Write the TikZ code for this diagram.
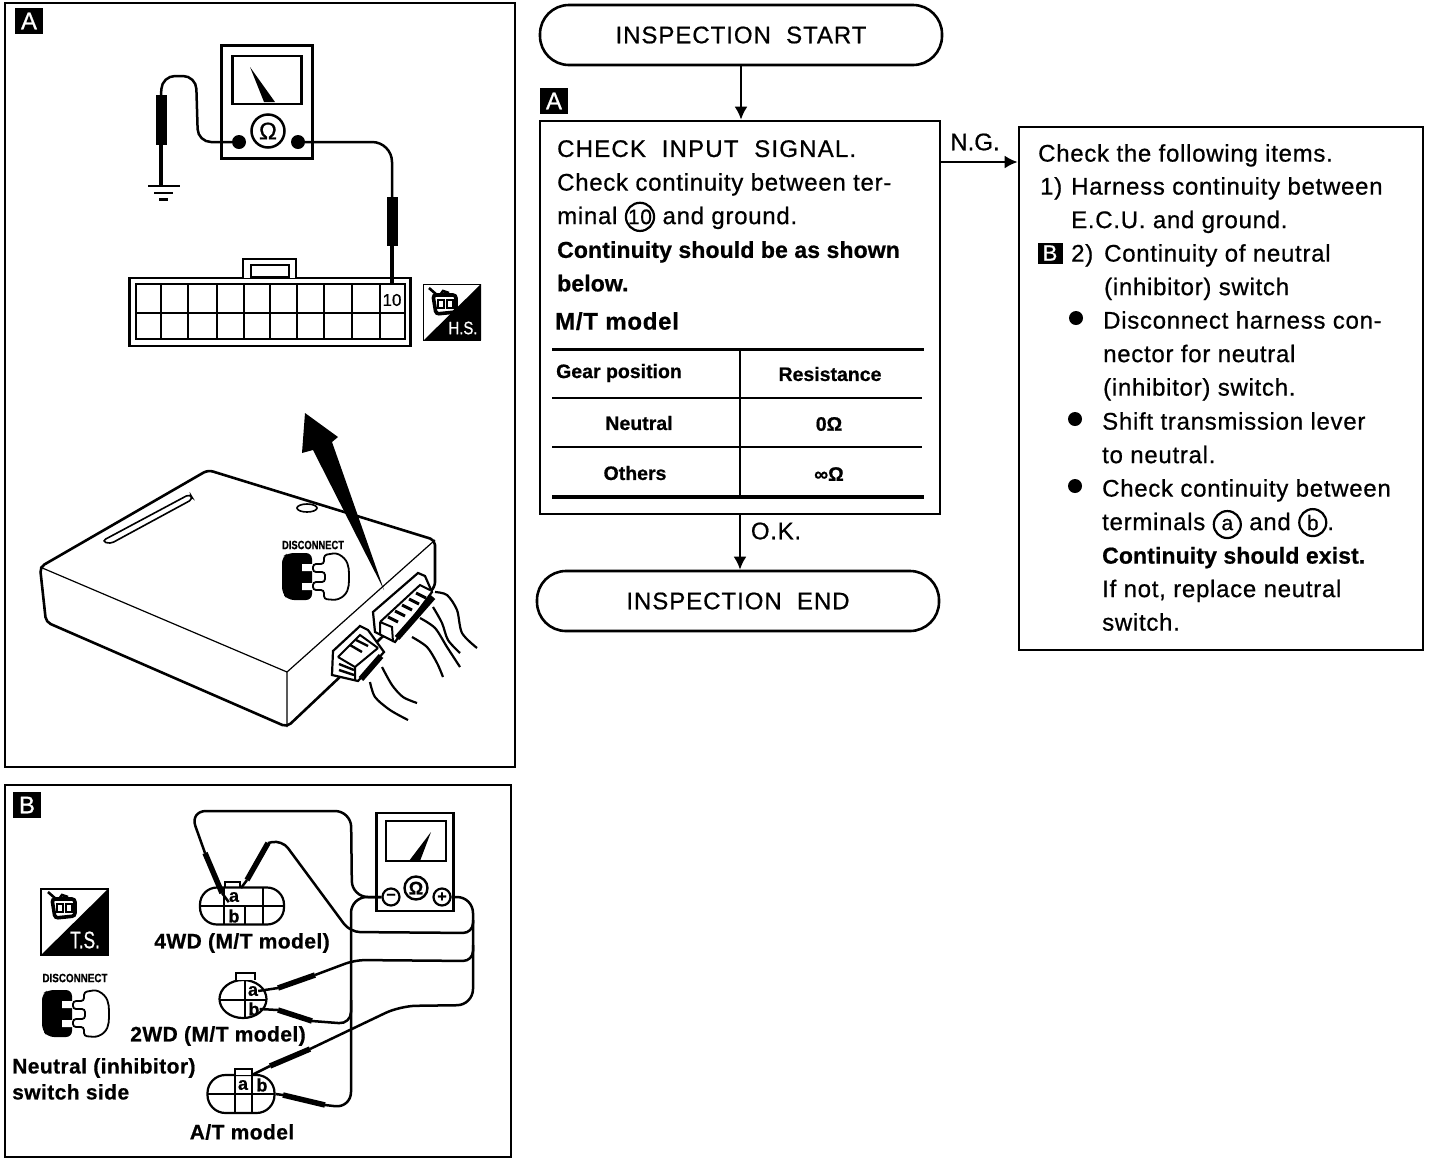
\documentclass[tikz,border=0pt]{standalone}
\usepackage{fontspec}
\setmainfont[FakeBold=0.7]{Liberation Sans}
\usetikzlibrary{positioning,shapes.geometric,arrows.meta}
\newcommand{\ringed}[1]{\tikz[baseline=(ring.base)]\node[draw, circle, anchor=center, align=center, line width=2.2pt, minimum size=27pt, inner sep=0pt, font=\fontsize{21}{21}\selectfont] (ring) {#1};}
\newcommand{\boldline}{\fontsize{23}{33.5}\bfseries\addfontfeature{LetterSpace=0.5}\selectfont}
\tikzset{
  frame/.style={draw, rectangle, line width=2.6pt, fill=white},
  badge/.style={fill=black, text=white, minimum width=28pt, minimum height=26pt, inner sep=0pt, font=\fontsize{24}{24}\selectfont},
  bodytext/.style={anchor=north west, inner sep=0pt, align=left, font=\fontsize{24}{33.5}\selectfont\addfontfeature{LetterSpace=3}},
  tabletext/.style={inner sep=0pt, font=\fontsize{19.5}{20}\bfseries\selectfont},
  labeltext/.style={inner sep=0pt, font=\fontsize{21}{26}\bfseries\selectfont\addfontfeature{LetterSpace=2}},
  pill/.style={draw, rectangle, line width=2.6pt, rounded corners=29pt, minimum width=402pt, minimum height=60pt, font=\fontsize{24}{24}\selectfont\addfontfeature{LetterSpace=4}},
  wire/.style={line width=2.5pt, rounded corners=14pt},
  thinwire/.style={line width=2.2pt},
  probe/.style={line width=11pt},
  probetip/.style={line width=3.5pt},
  smallprobe/.style={line width=5.5pt},
  leadtip/.style={line width=2.5pt},
  pinletter/.style={inner sep=0pt, font=\fontsize{18}{18}\bfseries\selectfont},
  disctext/.style={inner sep=0pt, font=\fontsize{12}{12}\bfseries\selectfont},
  dot/.style={circle, fill=black, minimum size=14pt, inner sep=0pt},
  plugicon/.pic={
    \fill[black, rounded corners=6pt] (0,4) -- (6,0) -- (30,0) -- (30,47) -- (6,47) -- (0,40) -- cycle;
    \fill[white] (20,11) rectangle (32,18) (20,30) rectangle (32,37);
    \draw[line width=1.8pt, fill=white, rounded corners=3pt] (31,11) -- (42,11) -- (42,2) -- (54,0) .. controls (66,6) and (67,14) .. (67,24) .. controls (67,34) and (66,42) .. (54,47) -- (42,46) -- (42,37) -- (31,37) -- (31,29) -- (43,29) -- (43,19) -- (31,19) -- cycle;
  },
  relayicon/.pic={
    \draw[line width=3.6pt, rounded corners=3pt] (2,5) -- (25,5) -- (25,22) -- (5,24) -- cycle;
    \draw[line width=1.6pt] (7,10) rectangle (13,18) (16,10) rectangle (22,18);
    \draw[line width=2.6pt] (-2,-2) -- (6,5) (9,5) -- (12,1) -- (18,3);
  },
}

\begin{document}
\begin{tikzpicture}[x=1pt, y=-1pt, >={Latex[length=13pt,width=13pt]}]
    \useasboundingbox (0,0) rectangle (1440,1160);

    % panel A
    \node[frame, minimum width=510pt, minimum height=764pt] (panelA) at (260,385) {};
    \node[badge] (badgeA) at (29,21) {A};

    \node[frame, minimum width=91pt, minimum height=113pt] (meterA) at (267,102) {};
    \node[draw, rectangle, line width=2.4pt, minimum width=69pt, minimum height=48pt] (windowA) at (267,80) {};
    \fill (250,67) -- (275,102) -- (264,102) -- cycle;
    \node[draw, circle, line width=2.5pt, minimum size=33pt, inner sep=0pt, font=\fontsize{24}{24}\selectfont] (ohmA) at (268,131) {Ω};
    \node[dot] (leadL) at (239,142) {};
    \node[dot] (leadR) at (298,142) {};

    \coordinate (groundA) at (161,186);
    \coordinate (pinA) at (392,285);
    \draw[wire, rounded corners=13pt] (leadL) -- (198,142) -- (196,76) -- (162,76) -- (161,96);
    \draw[probe] (161,95) -- (161,145);
    \draw[probetip] (161,145) -- (groundA);
    \draw[line width=2.4pt] (148,186) -- (180,186) (154,193) -- (173,193);
    \draw[line width=3pt] (159,199) -- (168,199);
    \draw[wire, rounded corners=20pt] (leadR) -- (392,142) -- (392,197);
    \draw[probe] (392,197) -- (392,246);

    % connector
    \node[frame, minimum width=281pt, minimum height=68pt] (ecuplug) at (270,312) {};
    \draw[line width=2.4pt, fill=white] (243,278) -- (243,259) -- (296,259) -- (296,278);
    \draw[line width=2.4pt] (251,265) rectangle (289,277);
    \draw[line width=2.2pt] (136,284) rectangle (405,339) (136,313) -- (405,313);
    \foreach \xpos in {161,188,217,244,270,297,324,352,380}
        \draw[line width=2pt] (\xpos,284) -- (\xpos,339);
    \draw[probetip] (392,246) -- (pinA);
    \node[inner sep=0pt, font=\fontsize{17}{17}\selectfont] (pin10) at (392,300) {10};

    \node[draw, rectangle, line width=1pt, fill=white, minimum width=57pt, minimum height=56pt, inner sep=0pt] (iconHS) at (452,312) {};
    \fill (481,284) -- (481,340) -- (424,340) -- cycle;
    \pic at (431,290) {relayicon};
    \node[inner sep=0pt, text=white, font=\fontsize{18}{18}\selectfont] (textHS) at (463,328) {\scalebox{0.83}[1]{H.S.}};

    % control unit
    \draw[line width=2.6pt, fill=white, rounded corners=5pt] (40,567) -- (46,622) -- (287,727) -- (435,587) -- (435,540) -- (208,470) -- cycle;
    \draw[line width=1.2pt] (40,567) -- (287,672) -- (287,727) (287,672) -- (435,540);
    \draw[line width=1.6pt, rounded corners=4pt] (102,541) -- (190,494) -- (193,499) -- (110,544) -- cycle;
    \draw[line width=1.6pt] (307,508) ellipse (10pt and 4pt);
    \fill (305,413) -- (338,437) -- (332,442) -- (384,590) -- (313,450) -- (302,453) -- cycle;
    \node[disctext] (discA) at (313,545) {\scalebox{0.78}[1]{DISCONNECT}};
    \begin{scope}[shift={(282,553)}, xscale=0.94]
        \pic at (0,0) {plugicon};
    \end{scope}

    % harness plugs
    \draw[line width=2.2pt, fill=white] (373,612) -- (418,573) -- (425,576) -- (432,592) -- (395,642) -- (375,632) -- cycle;
    \draw[line width=2pt] (380,622) -- (420,585) -- (430,590) (380,622) -- (392,627) -- (393,642) (380,622) -- (380,635);
    \foreach \step in {0,1,2,3,4}
        \draw[line width=3pt] (388+7*\step,617-6*\step) -- (398+7*\step,622-6*\step);
    \draw[line width=6pt] (397,638) -- (433,597);
    \draw[line width=2.2pt, fill=white] (333,651) -- (360,626) -- (368,630) -- (384,652) -- (358,681) -- (332,675) -- cycle;
    \draw[line width=2pt] (338,657) -- (360,635) -- (378,648) (338,657) -- (355,667) -- (378,648) (355,667) -- (355,680);
    \draw[line width=2.4pt] (339,664) -- (354,670) (339,670) -- (354,675) (350,645) -- (362,652) (356,640) -- (368,646);
    \draw[line width=6pt] (361,679) -- (381,656);
    \draw[thinwire] plot[smooth] coordinates {(435,592) (447,595) (457,610) (462,633) (477,648)};
    \draw[thinwire] plot[smooth] coordinates {(433,607) (442,623) (448,640) (460,653)};
    \draw[thinwire] plot[smooth] coordinates {(420,618) (435,628) (447,647) (460,667)};
    \draw[thinwire] plot[smooth] coordinates {(412,637) (427,647) (437,663) (443,677)};
    \draw[thinwire] plot[smooth] coordinates {(382,667) (392,685) (403,697) (417,703)};
    \draw[thinwire] plot[smooth] coordinates {(370,682) (375,697) (390,710) (408,720)};

    % panel B
    \node[frame, minimum width=506pt, minimum height=372pt] (panelB) at (258,971) {};
    \node[badge] (badgeB) at (27,805) {B};

    \node[frame, minimum width=77pt, minimum height=98pt] (meterB) at (415,862) {};
    \node[draw, rectangle, line width=2.2pt, minimum width=60pt, minimum height=40pt] (windowB) at (416,841) {};
    \fill (431,832) -- (420,861) -- (409,861) -- cycle;
    \node[draw, circle, line width=2.4pt, minimum size=23pt, inner sep=0pt, font=\fontsize{18}{18}\bfseries\selectfont] (ohmB) at (416,888) {Ω};
    \node[draw, circle, line width=2.2pt, fill=white, minimum size=17pt, inner sep=0pt, font=\fontsize{16}{16}\bfseries\selectfont] (minus) at (391,897) {−};
    \node[draw, circle, line width=2.2pt, fill=white, minimum size=17pt, inner sep=0pt, font=\fontsize{16}{16}\bfseries\selectfont] (plus) at (442,897) {+};

    % switch connectors
    \node[draw, rectangle, line width=2.2pt, rounded corners=17pt, minimum width=84pt, minimum height=37pt] (plug4wd) at (242,906) {};
    \draw[line width=2pt] (225,888) -- (225,882) -- (240,882) -- (240,888);
    \draw[line width=2.2pt] (201,906) -- (284,906) (224,888) -- (224,925) (245,906) -- (245,925) (263,888) -- (263,925);
    \node[pinletter] (a4wd) at (234,897) {a};
    \node[pinletter] (b4wd) at (234,916) {b};
    \node[draw, ellipse, line width=2.2pt, minimum width=47pt, minimum height=38pt, inner sep=0pt] (plug2wd) at (243,999) {};
    \draw[line width=2.2pt, fill=white] (236,980) -- (236,973) -- (255,973) -- (255,980);
    \draw[line width=2.2pt] (220,1000) -- (266,1000) (245,980) -- (245,1018);
    \node[pinletter] (a2wd) at (253,991) {a};
    \node[pinletter] (b2wd) at (254,1009) {b};
    \node[draw, rectangle, line width=2.2pt, rounded corners=18pt, minimum width=67pt, minimum height=38pt] (plugAT) at (241,1094) {};
    \draw[line width=2.2pt, fill=white] (235,1075) -- (235,1069) -- (252,1069) -- (252,1075);
    \draw[line width=2.2pt] (208,1094) -- (274,1094) (235,1075) -- (235,1113) (252,1075) -- (252,1113);
    \node[pinletter] (aAT) at (243,1085) {a};
    \node[pinletter] (bAT) at (262,1085) {b};

    % test leads
    \draw[wire, rounded corners=16pt] (minus.west) -- (352,897) -- (351,811) -- (190,811) -- (205,853);
    \draw[smallprobe] (205,853) -- (222,893);
    \draw[leadtip] (222,893) -- (a4wd.south west);
    \draw[wire, rounded corners=16pt] (minus.west) -- (351,897) -- (351,1108) -- (325,1105);
    \draw[smallprobe] (325,1105) -- (283,1095);
    \draw[leadtip] (283,1095) -- (plugAT.east);
    \draw[wire, rounded corners=12pt] (351,1000) -- (351,1024) -- (312,1021);
    \draw[smallprobe] (312,1021) -- (278,1010);
    \draw[leadtip] (278,1010) -- (b2wd.east);
    \draw[wire, rounded corners=16pt] (plus.east) -- (473,897) -- (473,1005) -- (400,1006) -- (310,1049);
    \draw[smallprobe] (310,1049) -- (270,1066);
    \draw[leadtip] (270,1066) -- (252,1075);
    \draw[wire, rounded corners=10pt] (473,920) -- (473,933) -- (350,932) -- (282,840) -- (268,843);
    \draw[smallprobe] (268,843) -- (247,880);
    \draw[leadtip] (247,880) -- (241,888);
    \draw[wire, rounded corners=10pt] (473,945) -- (473,961) -- (355,960) -- (315,975);
    \draw[smallprobe] (315,975) -- (278,988);
    \draw[leadtip] (278,988) -- (a2wd.east);

    \node[labeltext] (label4wd) at (242,943) {4WD (M/T model)};
    \node[labeltext] (label2wd) at (218,1036) {2WD (M/T model)};
    \node[labeltext] (labelAT) at (242,1132) {A/T model};
    \node[labeltext, anchor=north west, align=left] (labelSide) at (12,1058) {Neutral (inhibitor)\\switch side};

    \node[draw, rectangle, line width=1.2pt, fill=white, minimum width=67pt, minimum height=66pt, inner sep=0pt] (iconTS) at (74.5,922) {};
    \fill (108,889) -- (108,955) -- (41,955) -- cycle;
    \pic at (50,894) {relayicon};
    \node[inner sep=0pt, text=white, font=\fontsize{24}{24}\selectfont] (textTS) at (85,940) {\scalebox{0.72}[1]{T.S.}};
    \node[disctext] (discB) at (75,978) {\scalebox{0.82}[1]{DISCONNECT}};
    \pic at (42,990) {plugicon};

    % flow chart
    \node[pill] (start) at (741,35) {INSPECTION~~START};
    \node[badge] (flowA) at (554,101) {A};
    \node[frame, minimum width=400pt, minimum height=393pt] (checkbox) at (740,317.5) {};
    \node[pill] (finish) at (738,601) {INSPECTION~~END};
    \node[frame, minimum width=404pt, minimum height=523pt] (items) at (1221,388.5) {};

    \draw[->, line width=2.4pt] (start.south) -- (start.south |- checkbox.north);
    \draw[->, line width=2.4pt] (checkbox.south) -- (checkbox.south |- finish.north);
    \draw[->, line width=2.4pt] (checkbox.east |- 0,162) -- (items.west |- 0,162);
    \node[inner sep=0pt, font=\fontsize{24}{24}\selectfont] (labelNG) at (975,142) {N.G.};
    \node[inner sep=0pt, font=\fontsize{24}{24}\selectfont\addfontfeature{LetterSpace=3}] (labelOK) at (776,531) {O.K.};

    \node[bodytext] (checkhead) at (557,140) {\addfontfeature{LetterSpace=5}CHECK~~INPUT~~SIGNAL.};
    \node[bodytext] (checkbody) at (557,173) {Check continuity between ter-\\minal \ringed{10} and ground.};
    \node[bodytext] (checkbold) at (557,241) {\boldline Continuity should be as shown\\\boldline below.};
    \node[bodytext] (mtmodel) at (555,312) {\bfseries M/T model};

    % table
    \draw[line width=3pt] (552,349) -- (924,349);
    \draw[line width=2pt] (552,398) -- (922,398) (552,447) -- (922,447);
    \draw[line width=4pt] (552,497) -- (924,497);
    \draw[line width=2.4pt] (740,349) -- (740,497);
    \node[tabletext] (gearhead) at (619,373) {Gear position};
    \node[tabletext] (reshead) at (830,374) {Resistance};
    \node[tabletext] (neutral) at (639,423) {Neutral};
    \node[tabletext] (zero) at (829,424) {0Ω};
    \node[tabletext] (others) at (635,473) {Others};
    \node[tabletext] (infinite) at (829,474) {∞Ω};

    % item list
    \node[bodytext] (itemhead) at (1038,144) {Check the following items.};
    \node[bodytext] (itemone) at (1040,177) {1)};
    \node[bodytext] (itemonetext) at (1071,177) {Harness continuity between\\E.C.U. and ground.};
    \node[badge, minimum width=25pt, minimum height=21pt, font=\fontsize{22}{22}\selectfont] (itemB) at (1050,253) {B};
    \node[bodytext] (itemtwo) at (1071,244) {2)};
    \node[bodytext] (itemtwotext) at (1104,244) {Continuity of neutral\\(inhibitor) switch};
    \node[dot] (bulletone) at (1076,318) {};
    \node[dot] (bullettwo) at (1075,419) {};
    \node[dot] (bulletthree) at (1075,486) {};
    \node[bodytext] (subone) at (1103,311) {Disconnect harness con-\\nector for neutral\\(inhibitor) switch.};
    \node[bodytext] (subtwo) at (1102,412) {Shift transmission lever\\to neutral.};
    \node[bodytext] (subthree) at (1102,479) {Check continuity between\\terminals \ringed{a} and \ringed{b}.\\\boldline Continuity should exist.\\If not, replace neutral\\switch.};
\end{tikzpicture}
\end{document}
